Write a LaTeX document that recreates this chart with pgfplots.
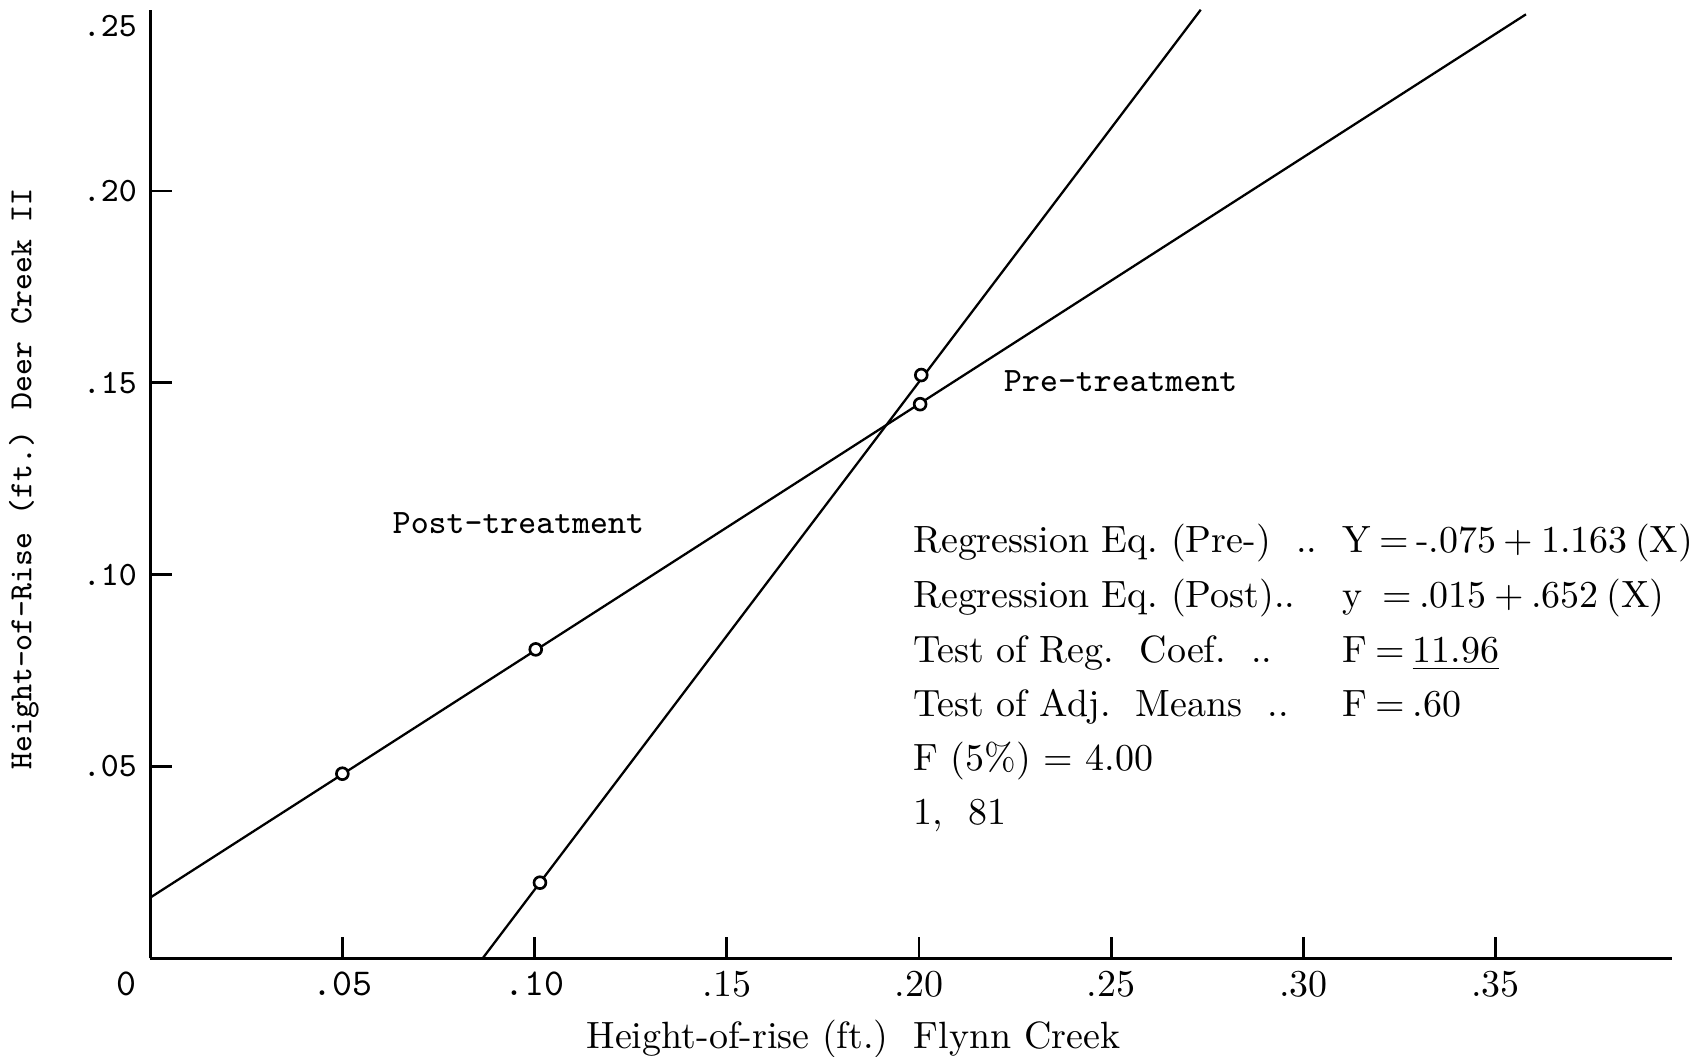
\documentclass[border=0pt]{standalone}
\usepackage{pgfplots}
\pgfplotsset{compat=1.18}
\usetikzlibrary{calc}
\begin{document}
\begin{tikzpicture}
\begin{axis}[
  scale only axis, width=140.9mm, height=87.8mm,
  xmin=0, xmax=0.396, ymin=0, ymax=0.2472,
  clip=false,
  axis lines*=left,
  axis line style={line width=0.8pt},
  tick align=inside,
  major tick length=2mm,
  tick style={line width=0.7pt, black},
  xtick={0,0.05,0.10,0.15,0.20,0.25,0.30,0.35},
  xticklabels={\makebox[0pt][r]{\ttfamily 0\hspace{1.3mm}}, \ttfamily .05, \ttfamily .10, .15, .20, .25, .30, .35},
  xticklabel style={font=\fontsize{10}{12}\selectfont},
  ytick={0.05,0.10,0.15,0.20},
  yticklabels={.05,.10,.15,.20},
  yticklabel style={font=\fontsize{9}{10}\selectfont\ttfamily},
  extra y ticks={0.243},
  extra y tick labels={.25},
  extra y tick style={major tick length=0pt},
  xlabel={Height-of-rise (ft.)\ \ Flynn Creek},
  xlabel style={at={(axis description cs:0.462,-0.0854)}, anchor=center, font=\fontsize{10}{12}\selectfont},
  ylabel={Height-of-Rise (ft.)\hspace{2mm}Deer Creek II},
  ylabel style={at={(axis description cs:-0.083,0.505)}, anchor=center, font=\fontsize{8.5}{10}\selectfont\ttfamily},
]
\addplot[black, line width=0.6pt] coordinates {(0,0.0158) (0.3579,0.2460)};
\addplot[black, line width=0.6pt] coordinates {(0.0865,0) (0.2733,0.2472)};
\addplot[black, only marks, mark=*, mark size=0.55mm, mark options={fill=white, draw=black, line width=0.7pt}] coordinates {(0.05,0.0481) (0.1003,0.0805) (0.2003,0.1444)};
\addplot[black, only marks, mark=*, mark size=0.55mm, mark options={fill=white, draw=black, line width=0.7pt}] coordinates {(0.1014,0.0197) (0.2006,0.1520)};

\node[font=\fontsize{9}{10}\selectfont\ttfamily] at (axis cs:0.0958,0.1135) {Post-treatment};
\node[font=\fontsize{9}{10}\selectfont\ttfamily] at (axis cs:0.2525,0.1503) {Pre-treatment};

\begin{scope}[every node/.style={anchor=base west, inner sep=0pt, font=\fontsize{10}{12}\selectfont}]
\node at (axis cs:0.1983,0.10586) {Regression Eq.\ (Pre-)\ \ ..};
\node at (axis cs:0.1983,0.09150) {Regression Eq.\ (Post)..};
\node at (axis cs:0.1983,0.07714) {Test of Reg.\ \ Coef.\ \ ..};
\node at (axis cs:0.1983,0.06306) {Test of Adj.\ \ Means\ \ ..};
\node at (axis cs:0.1983,0.04899) {F (5\%) = 4.00};
\node at (axis cs:0.1983,0.03491) {1,\ \ 81};
\node at (axis cs:0.3101,0.10586) {Y\hspace{2pt}=\hspace{2pt}-.075\hspace{2pt}+\hspace{2pt}1.163\hspace{2pt}(X)};
\node at (axis cs:0.3101,0.09150) {y\hspace{5pt}=\hspace{2pt}.015\hspace{2pt}+\hspace{2pt}.652\hspace{2pt}(X)};
\node at (axis cs:0.3101,0.07714) {F\hspace{2pt}=\hspace{2pt}\underline{11.96}};
\node at (axis cs:0.3101,0.06306) {F\hspace{2pt}=\hspace{2pt}.60};
\end{scope}
\end{axis}
\pgfresetboundingbox
\path ($(current axis.south west)+(-13.9mm,-9.1mm)$) rectangle ($(current axis.north east)+(2.0mm,0.9mm)$);
\end{tikzpicture}
\end{document}
